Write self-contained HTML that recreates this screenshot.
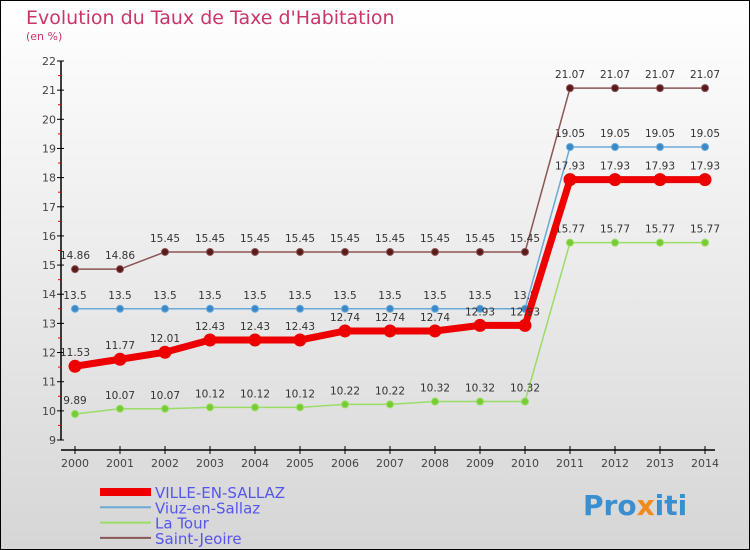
<!DOCTYPE html>
<html><head><meta charset="utf-8"><style>
body{margin:0;width:750px;height:550px;overflow:hidden;font-family:"DejaVu Sans","Liberation Sans",sans-serif}
svg{display:block}
</style></head><body>
<svg id="c" width="750" height="550" xmlns="http://www.w3.org/2000/svg">
<defs><linearGradient id="bg" x1="0" y1="0" x2="0" y2="1"><stop offset="0" stop-color="#ffffff"/><stop offset="1" stop-color="#d6d6d6"/></linearGradient></defs>
<rect x="0.5" y="0.5" width="749" height="549" fill="url(#bg)" stroke="#000"/>
<text x="26" y="24" font-size="19" fill="#c8366a">Evolution du Taux de Taxe d'Habitation</text>
<text x="26" y="40" font-size="11" fill="#c8366a">(en %)</text>
<g id="axes"></g><g id="series"></g><g id="legend"></g>
<text x="583" y="515" font-size="28" font-weight="bold" fill="#3a8fd0">Pro<tspan fill="#f08a1c">x</tspan>iti</text>
</svg>
<script>
const years=[2000,2001,2002,2003,2004,2005,2006,2007,2008,2009,2010,2011,2012,2013,2014];
const yTicks=[9,10,11,12,13,14,15,16,17,18,19,20,21,22];
const ville=[11.53,11.77,12.01,12.43,12.43,12.43,12.74,12.74,12.74,12.93,12.93,17.93,17.93,17.93,17.93];
const viuz=[13.5,13.5,13.5,13.5,13.5,13.5,13.5,13.5,13.5,13.5,13.5,19.05,19.05,19.05,19.05];
const latour=[9.89,10.07,10.07,10.12,10.12,10.12,10.22,10.22,10.32,10.32,10.32,15.77,15.77,15.77,15.77];
const stj=[14.86,14.86,15.45,15.45,15.45,15.45,15.45,15.45,15.45,15.45,15.45,21.07,21.07,21.07,21.07];
const names=["VILLE-EN-SALLAZ","Viuz-en-Sallaz","La Tour","Saint-Jeoire"];
const NS="http://www.w3.org/2000/svg";
const X=v=>75+(v-2000)*45;
const Y=v=>440-(v-9)*(379/13);
function mk(tag,attrs,parent,txt){const e=document.createElementNS(NS,tag);for(const k in attrs)e.setAttribute(k,attrs[k]);if(txt!==undefined)e.textContent=txt;parent.appendChild(e);return e;}
const ax=document.getElementById('axes');
let e=mk('line',{x1:61,y1:Y(22),x2:61,y2:Y(9),stroke:'#000','stroke-width':1.5},ax);

e=mk('line',{x1:61,y1:450,x2:715,y2:450,stroke:'#000','stroke-width':1.5},ax);

yTicks.forEach(t=>{
 mk('line',{x1:57,y1:Y(t),x2:64,y2:Y(t),stroke:'#000'},ax);
 if(t<22)mk('line',{x1:58,y1:Y(t+0.5),x2:61,y2:Y(t+0.5),stroke:'#e00'},ax);
 e=mk('text',{x:56,y:Y(t)+4,'font-size':11,fill:'#444','text-anchor':'end'},ax,String(t));
 
});
years.forEach(y=>{
 mk('line',{x1:X(y),y1:446,x2:X(y),y2:454,stroke:'#000'},ax);
 e=mk('text',{x:X(y),y:467,'font-size':11,fill:'#444','text-anchor':'middle'},ax,String(y));
 
});
const sg=document.getElementById('series');
function series(vals,color,dot,w,r,name,labelOff){
 const g=mk('g',{},sg);
 
 mk('polyline',{points:vals.map((v,i)=>X(years[i])+','+Y(v)).join(' '),fill:'none',stroke:color,'stroke-width':w},g);
 vals.forEach((v,i)=>{
  e=mk('circle',{cx:X(years[i]),cy:Y(v),r:r,fill:dot,stroke:color,'stroke-width':1},g);
  
  e=mk('text',{x:X(years[i]),y:Y(v)+labelOff,'font-size':10.5,fill:'#333','text-anchor':'middle'},g,String(v));
  
 });
}
series(latour,'#99dd66','#77cc33',1.5,3.5,'series-la-tour',-10);
series(viuz,'#6aaad8','#3a88c8',1.5,3.5,'series-viuz-en-sallaz',-10);
series(stj,'#8b5555','#5a1a1a',1.5,3.5,'series-saint-jeoire',-10);
series(ville,'#ee0000','#ee0000',7,6,'series-ville-en-sallaz',-10);
const lg=document.getElementById('legend');
const lc=['#ee0000','#6aaad8','#99dd66','#8b5555'],lw=[8,2,2,2];
names.forEach((n,i)=>{
 const y=492+i*15.3;
 const g=mk('g',{},lg);
 
 mk('line',{x1:100,y1:y,x2:151,y2:y,stroke:lc[i],'stroke-width':lw[i]},g);
 mk('text',{x:155,y:y+6,'font-size':15,fill:'#5555ee'},g,n);
});
</script>
</body></html>
